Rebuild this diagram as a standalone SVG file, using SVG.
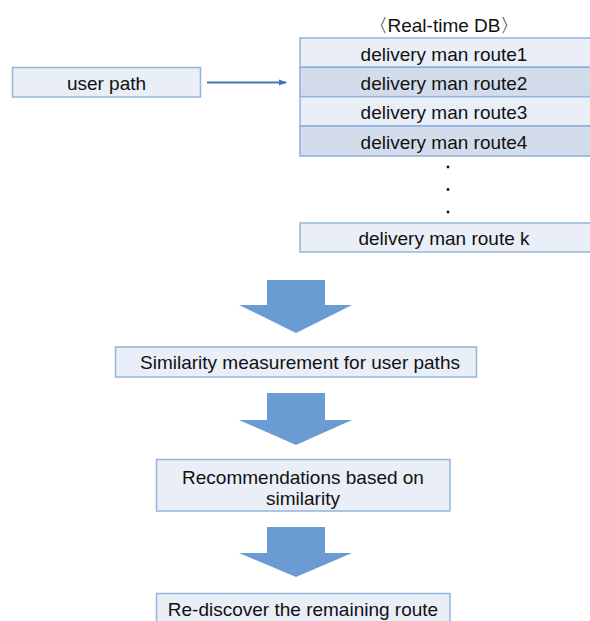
<svg xmlns="http://www.w3.org/2000/svg" width="590" height="621" viewBox="0 0 590 621">
<defs>
<style>
.box{fill:#e9eef7;stroke:#95b5de;stroke-width:1.5}
.dark{fill:#d3dcea;stroke:#8aaedb;stroke-width:1.5}
.t{font-family:"Liberation Sans",Arial,sans-serif;font-size:19px;fill:#111;text-anchor:middle}
.big{fill:#6a9bd2}
.dot{fill:#111}
</style>
<marker id="ah" markerWidth="8" markerHeight="8" refX="7" refY="4" orient="auto" markerUnits="userSpaceOnUse">
<path d="M0,1 L8,4 L0,7 Z" fill="#4a72b8"/>
</marker>
</defs>
<rect width="590" height="621" fill="#fff"/>
<g id="user-path">
<rect class="box" x="12.5" y="67.5" width="188" height="29.5"/>
<text class="t" x="106.5" y="89.5">user path</text>
</g>
<g id="db-title">
<text class="t" x="444" y="32">〈Real-time DB〉</text>
</g>
<g id="route1">
<rect class="box" x="300" y="38" width="292" height="29.3"/>
<text class="t" x="444" y="60.5">delivery man route1</text>
</g>
<g id="route2">
<rect class="dark" x="300" y="67.3" width="292" height="29.4"/>
<text class="t" x="444" y="89.5">delivery man route2</text>
</g>
<g id="route3">
<rect class="box" x="300" y="96.7" width="292" height="29.3"/>
<text class="t" x="444" y="119">delivery man route3</text>
</g>
<g id="route4">
<rect class="dark" x="300" y="126" width="292" height="30"/>
<text class="t" x="444" y="148.5">delivery man route4</text>
</g>
<g id="dots">
<circle class="dot" cx="448" cy="167" r="1.4"/>
<circle class="dot" cx="448" cy="189.5" r="1.4"/>
<circle class="dot" cx="448" cy="212" r="1.4"/>
</g>
<g id="routek">
<rect class="box" x="300" y="223" width="292" height="29"/>
<text class="t" x="444" y="245">delivery man route k</text>
</g>
<g id="similarity">
<rect class="box" x="115.5" y="347" width="361" height="30"/>
<text class="t" x="300" y="368.5">Similarity measurement for user paths</text>
</g>
<g id="recommend">
<rect class="box" x="156.5" y="459.5" width="293.5" height="51.5"/>
<text class="t" x="303" y="484">Recommendations based on</text>
<text class="t" x="303" y="505">similarity</text>
</g>
<g id="rediscover">
<rect class="box" x="156.5" y="593.5" width="293.5" height="40"/>
<text class="t" x="303" y="616">Re-discover the remaining route</text>
</g>
<g id="connectors">
<line x1="207" y1="82.5" x2="286" y2="82.5" stroke="#4a72b8" stroke-width="2" marker-end="url(#ah)"/>
<path class="big" d="M267,280 H325 V305 H352 L296,333 L239,305 H267 Z"/>
<path class="big" d="M267,393 H325 V420 H352 L296,445 L239,420 H267 Z"/>
<path class="big" d="M267,527 H325 V553 H352 L296,577 L239,553 H267 Z"/>
</g>
</svg>
